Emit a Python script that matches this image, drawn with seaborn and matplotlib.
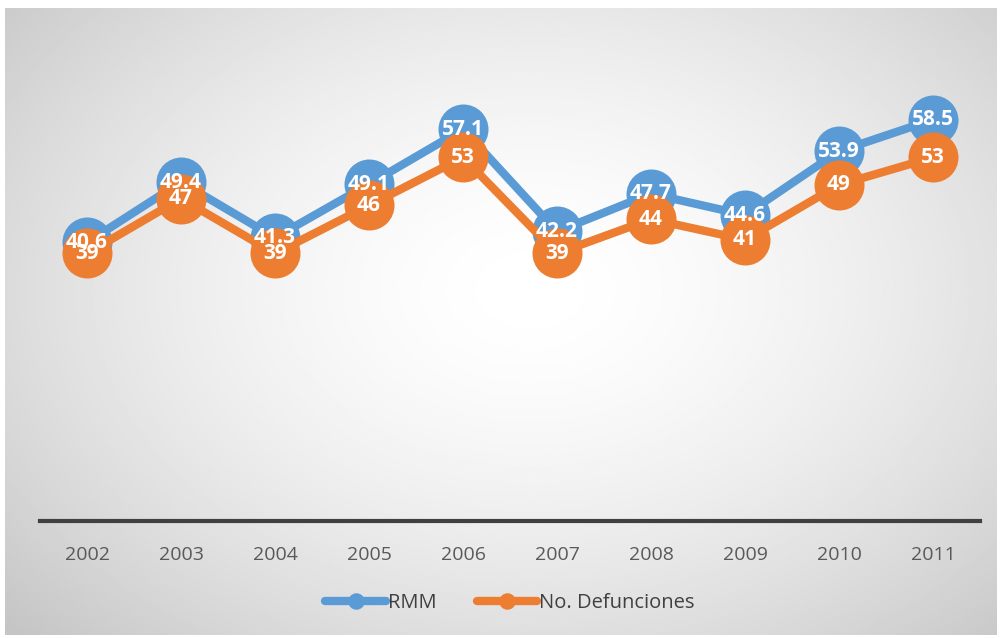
import numpy as np
import pandas as pd
import matplotlib
matplotlib.use("Agg")
import matplotlib.pyplot as plt
import seaborn as sns

years = ["2002", "2003", "2004", "2005", "2006", "2007", "2008", "2009", "2010", "2011"]
rmm = [40.6, 49.4, 41.3, 49.1, 57.1, 42.2, 47.7, 44.6, 53.9, 58.5]
defunciones = [39, 47, 39, 46, 53, 39, 44, 41, 49, 53]

df = pd.DataFrame({"idx": range(len(years)), "RMM": rmm, "No. Defunciones": defunciones})

sns.set_theme(style="white")
plt.rcParams['font.family'] = ['Open Sans', 'DejaVu Sans']

fig = plt.figure(figsize=(10, 6.38), dpi=100)
fig.patch.set_facecolor("white")

# radial gradient background
bg = fig.add_axes([0.005, 0.005, 0.992, 0.982])
yy, xx = np.mgrid[0:1:300j, 0:1:470j]
d = np.sqrt(((xx - 0.53) / 0.72) ** 2 + ((yy - 0.55) / 0.8) ** 2)
val = 1 - 0.23 * np.clip(d, 0, 1) ** 1.6
bg.imshow(val, cmap="gray", vmin=0, vmax=1, aspect="auto", extent=[0, 1, 0, 1], origin="lower")
bg.axis("off")

ax = fig.add_axes([0.04, 0.1834, 0.94, 0.7527])
ax.patch.set_alpha(0)

blue = "#5b9bd5"
orange = "#ed7d31"

sns.lineplot(data=df, x="idx", y="RMM", ax=ax, color=blue, linewidth=6,
             marker="o", markersize=36, markeredgewidth=0, label="RMM")
sns.lineplot(data=df, x="idx", y="No. Defunciones", ax=ax, color=orange, linewidth=6,
             marker="o", markersize=36, markeredgewidth=0, label="No. Defunciones")

for i, v in enumerate(rmm):
    ax.text(i, v, f"{v:.1f}", color="white", fontsize=15, fontweight="bold",
            ha="center", va="center", zorder=10)
for i, v in enumerate(defunciones):
    ax.text(i, v, f"{v}", color="white", fontsize=15, fontweight="bold",
            ha="center", va="center", zorder=10)

ax.set_xlim(-0.5, 9.5)
ax.set_ylim(0, 70)
ax.set_xticks(range(len(years)))
ax.set_xticklabels(years, fontsize=14, color="#595959")
ax.set_yticks([])
ax.set_xlabel("")
ax.set_ylabel("")
ax.tick_params(axis="x", length=0, pad=18)
for s in ["top", "right", "left"]:
    ax.spines[s].set_visible(False)
ax.spines["bottom"].set_color("#404040")
ax.spines["bottom"].set_linewidth(3)

leg = ax.legend(loc="center", bbox_to_anchor=(0.5, -0.17), ncol=2, frameon=False,
                fontsize=14.5, markerscale=0.33, handlelength=3.0, columnspacing=2.0,
                handletextpad=0.1)
for t in leg.get_texts():
    t.set_color("#404040")

fig.savefig("out.png", dpi=100)
